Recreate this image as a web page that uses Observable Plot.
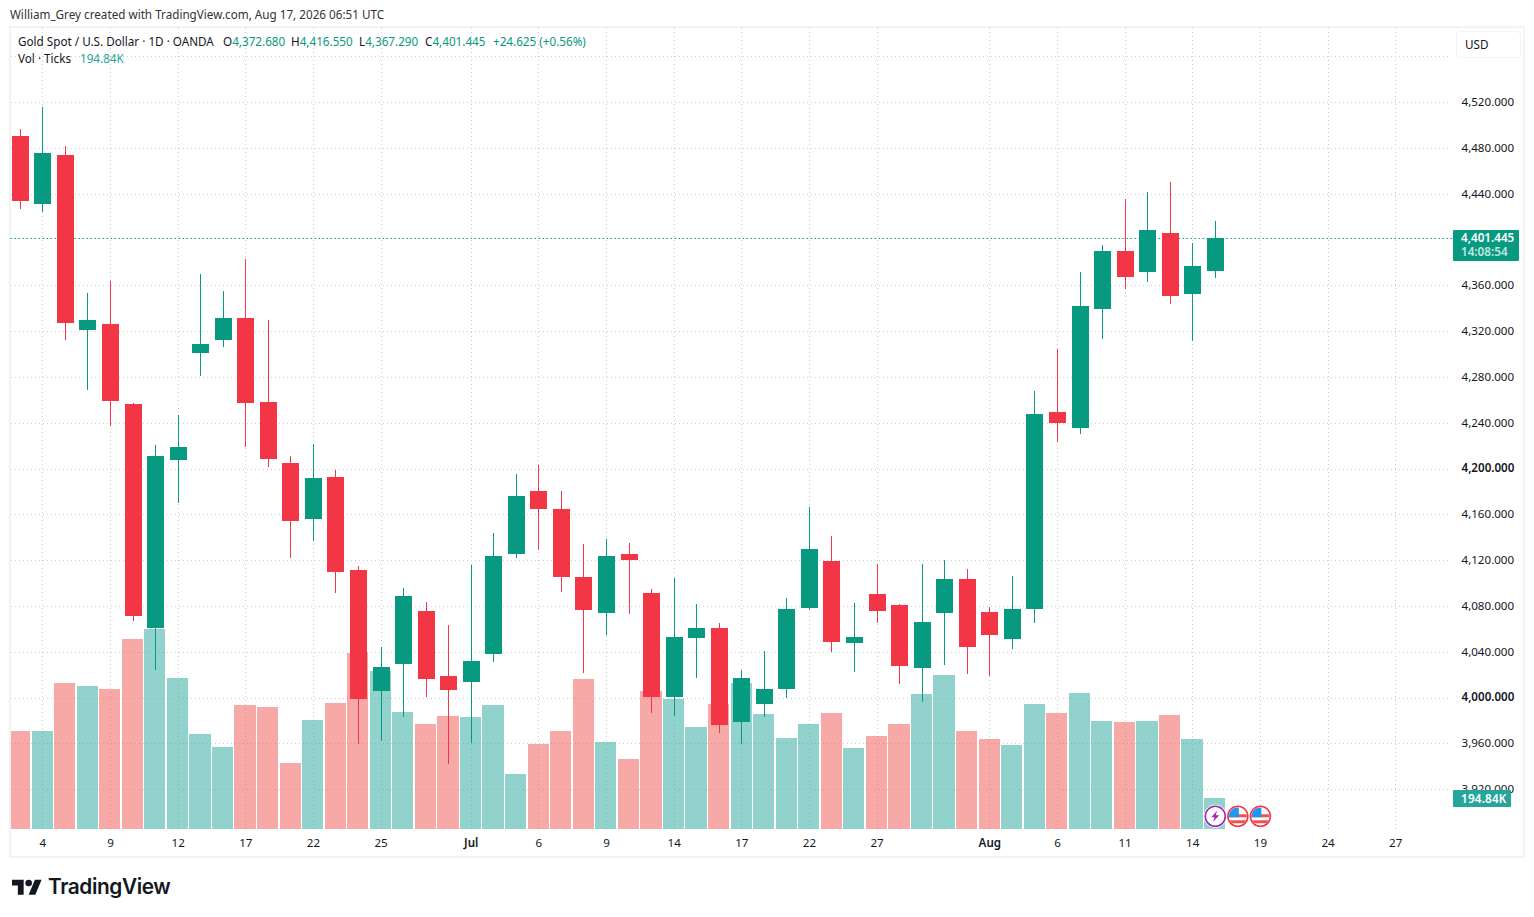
<!DOCTYPE html>
<html>
<head>
<meta charset="utf-8">
<script src="https://cdn.jsdelivr.net/npm/d3@7"></script>
<script src="https://cdn.jsdelivr.net/npm/@observablehq/plot@0.6"></script>
<style>
  html, body { margin: 0; padding: 0; background: #fff; width: 1534px; height: 917px; overflow: hidden; }
  body { position: relative; font-family: "Noto Sans", sans-serif; color: #131722; }
  svg { position: absolute; left: 0; top: 0; background: transparent !important; }
  .t { position: absolute; white-space: nowrap; font-size: 11.7px; line-height: 16px; }
  .g { color: #089981; }
  #frame { position: absolute; left: 9px; top: 26px; width: 1512px; height: 828px; border: 2px solid #f2f3f5; }
  #usd { position: absolute; left: 1456px; top: 31px; width: 63px; height: 25px; border: 1px solid #f0f3fa; border-radius: 4px; box-sizing: content-box; }
  .tag { position: absolute; left: 1453px; color: #fff; font-weight: 600; font-size: 11.7px; }
</style>
</head>
<body>
<div class="t" style="left:10px;top:6px;color:#333">William_Grey created with TradingView.com, Aug 17, 2026 06:51 UTC</div>
<div id="frame"></div>
<div id="chart"></div>
<div class="t" style="left:18px;top:33px">Gold Spot / U.S. Dollar · 1D · OANDA</div>
<div class="t" style="left:223px;top:33px">O<span class="g">4,372.680</span></div>
<div class="t" style="left:291px;top:33px">H<span class="g">4,416.550</span></div>
<div class="t" style="left:359px;top:33px">L<span class="g">4,367.290</span></div>
<div class="t" style="left:425px;top:33px">C<span class="g">4,401.445</span></div>
<div class="t g" style="left:493px;top:33px">+24.625 (+0.56%)</div>
<div class="t" style="left:18px;top:50px">Vol · Ticks</div>
<div class="t" style="left:80px;top:50px;color:#26a69a">194.84K</div>
<div id="usd"></div>
<div class="t" style="left:1465px;top:36px">USD</div>
<svg style="left:12px;top:876px" width="30" height="24" viewBox="0 0 36 28"><path fill="#131722" d="M14 22H7V11H0V4h14v18ZM28 22h-8l7.5-18h8L28 22Z"/><circle fill="#131722" cx="20" cy="8" r="4"/></svg>
<div class="t" style="left:48px;top:874px;font-size:20.8px;line-height:26px;font-weight:600;font-family:Inter,'Noto Sans',sans-serif;letter-spacing:-0.4px;color:#131722">TradingView</div>
<script>
const opens = [4490.9,4431.5,4474.3,4321.5,4326.7,4256.9,4061.2,4208.0,4301.4,4312.8,4332.0,4258.6,4205.3,4156.4,4193.1,4111.9,4006.2,4029.8,4076.1,4019.3,4014.1,4038.5,4125.9,4180.9,4165.2,4105.8,4074.3,4125.9,4091.8,4001.0,4052.5,4061.2,3979.1,3994.9,4008.0,4078.7,4119.8,4048.1,4090.9,4081.3,4026.3,4074.3,4104.0,4075.2,4051.6,4077.8,4249.9,4235.9,4339.8,4390.5,4372.1,4406.2,4352.9,4372.68];
const highs = [4497.0,4516.3,4482.2,4353.8,4364.3,4257.7,4221.1,4247.3,4370.4,4355.6,4383.5,4330.2,4211.5,4221.9,4199.2,4115.4,4044.6,4096.2,4083.9,4063.9,4116.3,4144.2,4195.7,4203.6,4180.9,4134.6,4139.0,4135.5,4095.3,4104.9,4082.2,4065.6,4024.6,4041.1,4087.4,4166.9,4141.6,4083.1,4117.1,4082.2,4117.1,4120.6,4112.8,4079.6,4106.6,4268.2,4304.9,4372.1,4395.7,4435.9,4442.0,4450.8,4397.5,4416.55];
const lows = [4427.2,4424.6,4312.8,4269.1,4237.7,4067.3,4024.6,4170.4,4281.3,4306.6,4219.3,4201.8,4122.4,4137.2,4091.8,3959.9,3962.5,3983.5,4001.0,3942.5,3960.8,4031.5,4122.4,4129.4,4092.7,4021.9,4055.1,4073.5,3987.0,3984.4,4017.6,3969.5,3959.9,3983.5,4000.1,4077.0,4040.3,4022.8,4065.6,4012.3,3996.6,4028.9,4021.1,4019.3,4042.9,4065.6,4223.7,4230.7,4313.6,4357.3,4363.4,4344.2,4311.9,4367.29];
const closes = [4434.2,4476.1,4327.6,4330.2,4259.5,4071.7,4211.5,4219.3,4309.3,4332.0,4257.7,4208.8,4154.7,4192.2,4110.1,3999.2,4027.2,4089.2,4016.7,4007.1,4032.4,4124.1,4176.5,4165.2,4105.8,4077.0,4124.1,4120.6,4001.0,4053.4,4061.2,3976.5,4017.6,4008.0,4077.8,4130.2,4049.0,4053.4,4076.1,4028.0,4066.5,4104.0,4044.6,4055.1,4077.8,4248.1,4240.3,4342.5,4390.5,4367.8,4408.8,4351.2,4377.4,4401.445];
const volumes = [616,616,918,899,880,1194,1257,949,597,515,779,767,415,685,792,1106,993,735,660,710,704,779,346,534,616,943,547,440,867,817,641,786,918,723,572,660,729,509,585,660,848,968,616,566,528,786,729,855,679,672,679,716,566,194.84];
const xTickIndex = [1,4,7,10,13,16,20,23,26,29,32,35,38,43,46,49,52,55,58,61];
const xTickLabels = ["4","9","12","17","22","25","Jul","6","9","14","17","22","27","Aug","6","11","14","19","24","27"];
const boldXLabels = ["Jul","Aug"];
const priceTicks = [4520,4480,4440,4360,4320,4280,4240,4160,4120,4080,4040,3960,3920];
const boldPriceTicks = [4200,4000];
const gridPrices = [4560,4520,4480,4440,4360,4320,4280,4240,4200,4160,4120,4080,4040,4000,3960,3920];
const eventIcons = [{i:53,kind:"bolt"},{i:54,kind:"flag"},{i:55,kind:"flag"}];

const UP = "#089981", DOWN = "#F23645", VUP = "#26a69a", VDOWN = "#ef5350";
const candles = opens.map((o,i)=>({i,o,h:highs[i],l:lows[i],c:closes[i],v:volumes[i],up:closes[i]>=o}));
const lastClose = closes[closes.length-1], lastVol = volumes[volumes.length-1];

const FONT = "'Noto Sans', sans-serif";
const layout = {
  width: 1534, height: 917,
  marginLeft: 11, marginRight: 84, marginTop: 28, marginBottom: 88,
  style: {background:"transparent", fontFamily: FONT, fontSize:"11.6px", color:"#131722"},
  x: {type:"linear", domain:[0,61], range:[19.8, 19.8+22.547*61], axis:null}
};
const priceY = {type:"linear", domain:[4000,4520], range:[697.6, 102.2], axis:null};
const volY = {type:"linear", domain:[0,1000], range:[828.5, 828.5-1000/6.285], axis:null};
const idxLabel = i => xTickLabels[xTickIndex.indexOf(i)];
const boldIdx = xTickIndex.filter(i=>boldXLabels.includes(idxLabel(i)));
const plainIdx = xTickIndex.filter(i=>!boldXLabels.includes(idxLabel(i)));
const axisYCommon = {anchor:"right", tickSize:0, tickPadding:11, tickFormat:d3.format(",.3f"), label:null, fontSize:11.6, fill:"#131722", dy:-0.5};
const axisXCommon = {anchor:"bottom", tickSize:0, tickPadding:9, tickFormat:idxLabel, label:null, fontSize:11.6, fill:"#131722", dx:0};

const base = Plot.plot({...layout, y: priceY, marks: [
  Plot.ruleY(gridPrices, {stroke:"#cdcdcd", strokeDasharray:"1,3", shapeRendering:"crispEdges"}),
  Plot.ruleX(xTickIndex, {stroke:"#cdcdcd", strokeDasharray:"1,3", shapeRendering:"crispEdges"}),
  Plot.ruleY([lastClose], {x1:-0.41, x2:63.6, stroke:UP, strokeWidth:1, strokeDasharray:"1.6,2.4"}),
  Plot.axisY({...axisYCommon, ticks:priceTicks}),
  Plot.axisY({...axisYCommon, ticks:boldPriceTicks, fontWeight:600}),
  Plot.axisX({...axisXCommon, ticks:plainIdx}),
  Plot.axisX({...axisXCommon, ticks:boldIdx, fontWeight:600})
]});

const boltIcon = "data:image/svg+xml," + encodeURIComponent('<svg xmlns="http://www.w3.org/2000/svg" viewBox="0 0 24 24"><circle cx="12" cy="12" r="11.5" fill="#fff"/><circle cx="12" cy="12" r="10" fill="#fff" stroke="#9c27b0" stroke-width="1.6"/><path d="M13.8 6.5 8 13h3.4l-1.6 4.6L16 11h-3.6z" fill="#9c27b0"/></svg>');
const flagIcon = "data:image/svg+xml," + encodeURIComponent('<svg xmlns="http://www.w3.org/2000/svg" viewBox="0 0 24 24"><defs><clipPath id="c"><circle cx="12" cy="12" r="9"/></clipPath></defs><circle cx="12" cy="12" r="11.5" fill="#fff"/><g clip-path="url(#c)"><rect width="24" height="24" fill="#fff"/><rect y="10" width="24" height="3" fill="#ef5350"/><rect y="16" width="24" height="3" fill="#ef5350"/><rect x="3" y="3" width="10" height="10" fill="#2196f3"/></g><circle cx="12" cy="12" r="10" fill="none" stroke="#f23645" stroke-width="1.6"/></svg>');

const vol = Plot.plot({...layout, y: volY, marks: [
  Plot.rect(candles, {x1:d=>d.i-0.47, x2:d=>d.i+0.47, y1:0, y2:"v", fill:d=>d.up?VUP:VDOWN, fillOpacity:0.5, shapeRendering:"crispEdges", dx:-0.2, dy:0.5, clip:true}),
  Plot.image(eventIcons, {x:"i", y:()=>80, width:24, height:24, src:d=>d.kind==="bolt"?boltIcon:flagIcon})
]});

const price = Plot.plot({...layout, y: priceY, marks: [
  Plot.ruleX(candles, {x:"i", y1:"l", y2:"h", stroke:d=>d.up?UP:DOWN, strokeWidth:1, shapeRendering:"crispEdges", dy:0.5}),
  Plot.rect(candles, {x1:d=>d.i-0.377, x2:d=>d.i+0.377, y1:"o", y2:"c", fill:d=>d.up?UP:DOWN, shapeRendering:"crispEdges", dx:0.5, dy:0.5})
]});

const host = document.getElementById("chart");
host.append(base, vol, price);

const py = base.scale("y").apply(lastClose), vy = vol.scale("y").apply(lastVol);
const tag1 = document.createElement("div");
tag1.className = "tag";
tag1.style.cssText = `top:${Math.round(py-8)}px;width:66px;height:31px;background:${UP};border-radius:1px;`;
tag1.innerHTML = `<div style="position:absolute;left:8px;top:0;line-height:15px;white-space:nowrap">4,401.445</div><div style="position:absolute;left:8px;top:14px;line-height:15px;opacity:.75;white-space:nowrap">14:08:54</div>`;
const tag2 = document.createElement("div");
tag2.className = "tag";
tag2.style.cssText = `top:${Math.round(vy-7.5)}px;width:58px;height:17px;line-height:17px;background:${VUP};border-radius:1px;`;
tag2.innerHTML = `<div style="position:absolute;left:8px;top:0;white-space:nowrap;letter-spacing:.2px">194.84K</div>`;
document.body.append(tag1, tag2);
</script>
</body>
</html>
